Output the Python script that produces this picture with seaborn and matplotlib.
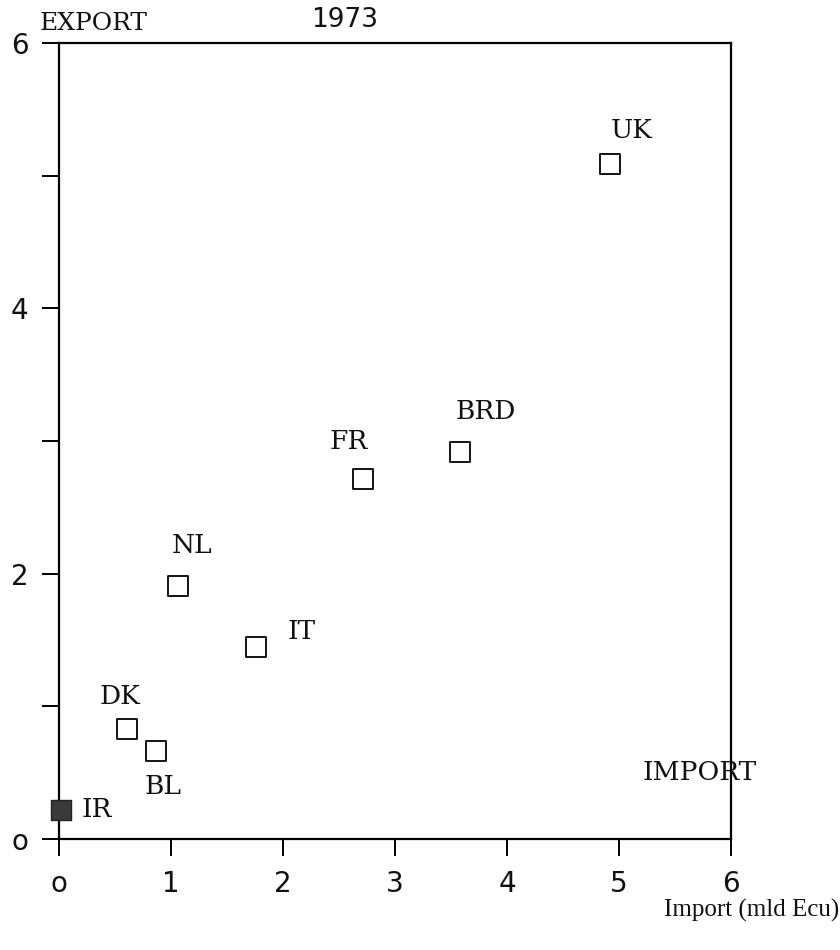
import matplotlib
matplotlib.use("Agg")
import matplotlib.pyplot as plt
import seaborn as sns
import pandas as pd

countries = ["IR", "BL", "DK", "NL", "IT", "FR", "BRD", "UK"]
imports = [0.02, 0.87, 0.61, 1.06, 1.76, 2.71, 3.58, 4.92]
exports = [0.22, 0.66, 0.83, 1.91, 1.45, 2.71, 2.92, 5.09]
highlight = [True, False, False, False, False, False, False, False]
# label offsets in pixels (dx, dy) relative to the marker
label_dx = [35, 7, -7, 14, 45, -14, 26, 22]
label_dy = [0, -35, 32, 40, 15, 38, 40, 33]

x_ticks = [0, 1, 2, 3, 4, 5, 6]
x_ticklabels = ["o", "1", "2", "3", "4", "5", "6"]
y_ticks = [0, 1, 2, 3, 4, 5, 6]
y_ticklabels = ["o", "", "2", "", "4", "", "6"]

df = pd.DataFrame({"country": countries, "import": imports,
                   "export": exports, "hl": highlight})

sns.set_theme(style="white")
plt.rcParams["font.family"] = ["DejaVu Sans"]

W, H = 840, 950
fig = plt.figure(figsize=(W / 100, H / 100), dpi=100)
x0, x1, yb, yt = 59, 731, 839, 43
ax = fig.add_axes([x0 / W, 1 - yb / H, (x1 - x0) / W, (yb - yt) / H])

sns.scatterplot(data=df[~df.hl], x="import", y="export", marker="s", s=190,
                facecolor="white", edgecolor="black", linewidth=1.3, ax=ax,
                zorder=3, clip_on=False)
sns.scatterplot(data=df[df.hl], x="import", y="export", marker="s", s=190,
                color="#3a3a3a", edgecolor="#222222", linewidth=1.0, ax=ax,
                zorder=3, clip_on=False)

serif = "DejaVu Serif"
for c, xv, yv, dx, dy in zip(countries, imports, exports, label_dx, label_dy):
    ax.annotate(c, (xv, yv), xytext=(dx, dy), textcoords="offset pixels",
                ha="center", va="center", fontsize=19, family=serif,
                color="#111111")

ax.set_xlim(0, 6)
ax.set_ylim(0, 6)
ax.set_xticks(x_ticks)
ax.set_xticklabels(x_ticklabels)
ax.set_yticks(y_ticks)
ax.set_yticklabels(y_ticklabels)
ax.set_xlabel("")
ax.set_ylabel("")
ax.tick_params(axis="both", which="major", direction="out", length=12,
               width=1.4, color="black", labelsize=20, labelcolor="#111111",
               bottom=True, left=True, top=False, right=False)
ax.tick_params(axis="x", pad=10)
ax.tick_params(axis="y", pad=10)
for s in ax.spines.values():
    s.set_visible(True)
    s.set_color("black")
    s.set_linewidth(1.6)
ax.grid(False)

fig.text(40 / W, 1 - 24 / H, "EXPORT", fontsize=18, family=serif,
         ha="left", va="center", color="#111111")
fig.text(345 / W, 1 - 20 / H, "1973", fontsize=19, ha="center",
         va="center", color="#111111")
fig.text(700 / W, 1 - 772 / H, "IMPORT", fontsize=19, family=serif,
         ha="center", va="center", color="#111111")
fig.text(752 / W, 1 - 910 / H, "Import (mld Ecu)", fontsize=18,
         family="Liberation Serif", ha="center", va="center",
         color="#111111")

fig.savefig("out.png", dpi=100, facecolor="white")
